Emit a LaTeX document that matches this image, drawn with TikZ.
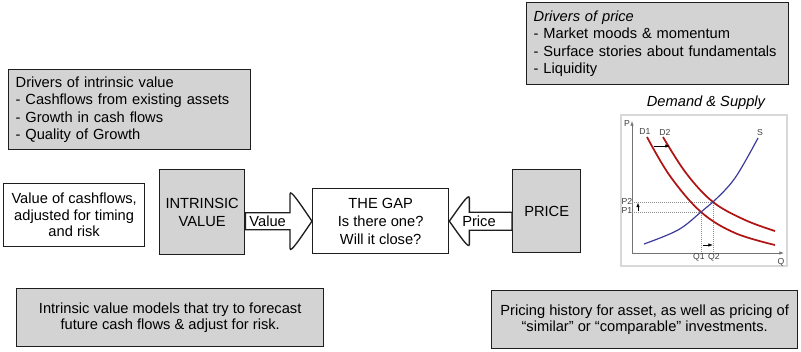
\documentclass[tikz,border=0pt]{standalone}
\usepackage{fontspec}
\setmainfont{Liberation Sans}
\usetikzlibrary{calc,arrows.meta}
\definecolor{boxgray}{HTML}{D3D3D3}
\definecolor{bordr}{HTML}{1E1E1E}
\definecolor{dred}{HTML}{B01414}
\definecolor{sblue}{HTML}{3A3A9A}
\definecolor{framegray}{HTML}{D8D8D8}
\begin{document}
\begin{tikzpicture}[x=0.75pt,y=-0.75pt,
  box/.style={draw=bordr, line width=1pt, fill=boxgray, inner sep=0pt, anchor=north west},
  wbox/.style={box, fill=white},
  mainfont/.style={font=\fontsize{11}{13}\selectfont},
  blockarrow/.style={draw=bordr, line width=1pt, fill=white, line join=miter},
  small/.style={font=\fontsize{6.5}{7}\selectfont, text=black!75, inner sep=0pt},
  curve/.style={line width=1.3pt},
  tinyarrow/.style={-{Latex[length=3.5pt,width=2.6pt]}, line width=0.5pt},
  mainfont]
\useasboundingbox (0,0) rectangle (801,351);

% drivers of intrinsic value
\node[box, minimum width=181.5pt, minimum height=60pt, text width=171pt, align=left] (divbox) at (8,69)
  {Drivers of intrinsic value\\- Cashflows from existing assets\\- Growth in cash flows\\- Quality of Growth};
% drivers of price
\node[box, minimum width=196.5pt, minimum height=61.5pt, text width=186pt, align=left] (dpbox) at (526,2)
  {\textit{Drivers of price}\\- Market moods \& momentum\\- Surface stories about fundamentals\\- Liquidity};

% middle row
\node[wbox, minimum width=105.75pt, minimum height=47.25pt, align=center, font=\fontsize{11}{12.4}\selectfont] (vcf) at (3,183)
  {Value of cashflows,\\adjusted for timing\\and risk};
\node[box, minimum width=63.75pt, minimum height=63.75pt, align=center, font=\fontsize{11}{13.5}\selectfont] (iv) at (159,169)
  {INTRINSIC\\VALUE};
\node[wbox, minimum width=102pt, minimum height=48.75pt, align=center, font=\fontsize{11}{13.5}\selectfont] (gap) at (312,188)
  {THE GAP\\Is there one?\\Will it close?};
\node[box, minimum width=51pt, minimum height=62.25pt, align=center] (price) at (512,169)
  {PRICE};

% value block arrow
\coordinate (vs) at (iv.east |- gap.west);
\draw[blockarrow]
  ($(vs)+(0,-8.5)$) -- ($(gap.west)+(-22,-8.5)$) -- ($(gap.west)+(-22,-27)$)
  .. controls ($(gap.west)+(-22,-33)$) and ($(gap.west)+(-11,-16)$) .. (gap.west)
  .. controls ($(gap.west)+(-11,16)$) and ($(gap.west)+(-22,33)$) .. ($(gap.west)+(-22,27)$)
  -- ($(gap.west)+(-22,8.5)$) -- ($(vs)+(0,8.5)$) -- cycle;
\node[inner sep=0pt] (vlabel) at ($(vs)!0.5!($(gap.west)+(-22,0)$)+(0,0.5)$) {Value};

% price block arrow
\coordinate (ps) at (price.west |- gap.east);
\draw[blockarrow]
  ($(ps)+(0,-9)$) -- ($(gap.east)+(20,-9)$) -- ($(gap.east)+(20,-23)$)
  .. controls ($(gap.east)+(20,-29)$) and ($(gap.east)+(10,-14)$) .. (gap.east)
  .. controls ($(gap.east)+(10,14)$) and ($(gap.east)+(20,29)$) .. ($(gap.east)+(20,23)$)
  -- ($(gap.east)+(20,9)$) -- ($(ps)+(0,9)$) -- cycle;
\node[inner sep=0pt] (plabel) at (479,221.5) {Price};

% bottom boxes
\node[box, minimum width=230.25pt, minimum height=43.5pt, align=center, font=\fontsize{11}{11.8}\selectfont] (ivm) at (16,288)
  {Intrinsic value models that try to forecast\\future cash flows \& adjust for risk.};
\node[box, minimum width=229.5pt, minimum height=43.5pt, align=center, font=\fontsize{11}{11.8}\selectfont] (phb) at (491,290)
  {Pricing history for asset, as well as pricing of\\“similar” or “comparable” investments.};

% demand & supply chart
\node[font=\itshape\fontsize{11}{12}\selectfont] (dstitle) at (706,103) {Demand \& Supply};
\draw[framegray, line width=1.5pt] (621,115) rectangle (787,266);
\draw[black!55, line width=0.6pt, -{Latex[length=3.5pt,width=2.6pt]}] (632,253) -- (632,121);
\draw[black!55, line width=0.6pt, -{Latex[length=3.5pt,width=2.6pt]}] (632,253) -- (784,253);
\draw[black!45, densely dotted, line width=0.5pt] (632,202) -- (713,202) -- (713,253);
\draw[black!45, densely dotted, line width=0.5pt] (632,212) -- (701,212) -- (701,253);
\draw[dred, curve] plot[smooth, tension=0.6] coordinates {(647,137) (670,176) (701,212) (735,233) (775,245)};
\draw[dred, curve] plot[smooth, tension=0.6] coordinates {(663,137) (686,173) (713,202) (745,220) (775,231)};
\draw[sblue, line width=0.9pt] plot[smooth, tension=0.6] coordinates {(644,244) (678,230) (701,212) (713,202) (735,178) (758,138)};
\draw[tinyarrow] (654,146) -- (670,146);
\draw[tinyarrow] (638,211) -- (638,202.5);
\draw[tinyarrow] (703,245) -- (713,245);
\node[small] (lp) at (627,124) {P};
\node[small] (lq) at (781,262) {Q};
\node[small] (ld1) at (645,132) {D1};
\node[small] (ld2) at (665,132) {D2};
\node[small] (ls) at (760,133) {S};
\node[small] (lp2) at (627,201) {P2};
\node[small] (lp1) at (627,211) {P1};
\node[small] (lq1) at (699,257.5) {Q1};
\node[small] (lq2) at (714,257.5) {Q2};
\end{tikzpicture}
\end{document}
